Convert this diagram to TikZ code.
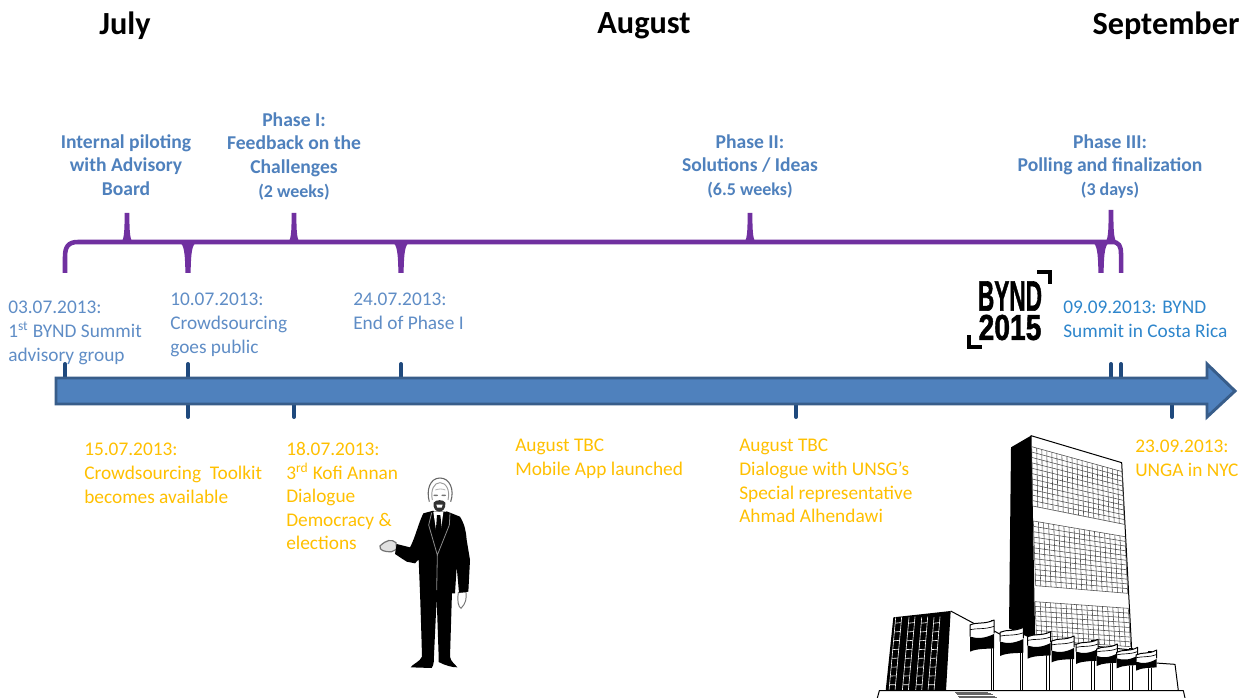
\documentclass[tikz,border=0pt]{standalone}
\usepackage{fontspec}
\setmainfont{Carlito}
\newfontfamily\logofont{Liberation Sans}[BoldFeatures={FakeBold=1.5}]
\usetikzlibrary{calc}
\definecolor{barfill}{HTML}{4F81BD}
\definecolor{barline}{HTML}{385D8A}
\definecolor{tickc}{HTML}{1F497D}
\definecolor{braceC}{HTML}{7030A0}
\definecolor{phaseC}{HTML}{4F81BD}
\definecolor{dateC}{HTML}{5F8DC6}
\definecolor{summitC}{HTML}{2E86CC}
\definecolor{orangeC}{HTML}{FFC000}
\newcommand{\smallline}{\fontsize{13.5}{17.9}\selectfont}
\tikzset{
  month/.style={inner sep=0,anchor=center,font=\fontsize{24.2}{28}\selectfont\bfseries},
  phase/.style={inner sep=0,anchor=north,align=center,text=phaseC,font=\fontsize{14.7}{17.9}\selectfont\bfseries},
  datelbl/.style={inner sep=0,anchor=north west,align=left,font=\fontsize{14.5}{17.7}\selectfont},
  tick/.style={draw=tickc,line width=3pt,line cap=round},
  bracepath/.style={draw=braceC,line width=3.4pt,line join=round},
  ln/.style={draw=black,line width=0.75pt,line join=round},
  thin/.style={draw=black!70,line width=0.42pt},
}
% quadrilateral window grid
\newcommand{\gridsec}[6]{%
  \coordinate (gA) at #1; \coordinate (gB) at #2; \coordinate (gC) at #3; \coordinate (gD) at #4;
  \foreach \i in {0,...,#5} {\draw[thin] ($(gA)!{\i/#5}!(gB)$) -- ($(gD)!{\i/#5}!(gC)$);}
  \foreach \j in {0,...,#6} {\draw[thin] ($(gA)!{\j/#6}!(gD)$) -- ($(gB)!{\j/#6}!(gC)$);}
}
% flag: left x, right x, top y, mid y, bottom y
\newcommand{\flagshape}[5]{%
  \pgfmathsetmacro{\w}{#2-#1}
  \fill[white] (#1,#3+15) .. controls (#1+0.3*\w,#3+5) and (#1+0.6*\w,#3+14) .. (#2,#3) -- (#2,#5-12) -- (#1,#5) -- cycle;
  \draw[ln] (#1,#4) -- (#1,#3+15) .. controls (#1+0.3*\w,#3+5) and (#1+0.6*\w,#3+14) .. (#2,#3) -- (#2,#4-10);
  \draw[draw=black,line width=0.5pt] (#1,#3+15+0.38*#4-0.38*#3-5) .. controls (#1+0.3*\w,#3+5+0.38*#4-0.38*#3) and (#1+0.6*\w,#3+10+0.38*#4-0.38*#3) .. (#2,#3+0.38*#4-0.38*#3);
  \fill[black] (#1,#4) .. controls (#1+0.3*\w,#4+6) and (#1+0.6*\w,#4+6) .. (#2,#4-8)
     -- (#2,#5-10) .. controls (#1+0.7*\w,#5-8) and (#1+0.3*\w,#5-10) .. (#1,#5) -- cycle;
}
% tapering cusps of a brace: x, tip y
\newcommand{\cuspup}[2]{%
  \fill[braceC] (#1-7,243) .. controls (#1-3,241) and (#1-2.4,234) .. (#1-2.4,#2) -- (#1+2.4,#2)
     .. controls (#1+2.4,234) and (#1+3,241) .. (#1+7,243) -- cycle;
}
\newcommand{\cuspdown}[2]{%
  \fill[braceC] (#1-9,242) .. controls (#1-4,244) and (#1-3,252) .. (#1-2.6,#2) -- (#1+2.6,#2)
     .. controls (#1+3,252) and (#1+4,244) .. (#1+9,242) -- cycle;
}
\begin{document}
\begin{tikzpicture}[x=0.75pt,y=-0.75pt]
\useasboundingbox (0,0) rectangle (1248,698);
\fill[white] (0,0) rectangle (1248,698);

% months
\node[month] (mJuly) at (125,26) {July};
\node[month] (mAug) at (644,26) {August};
\node[month] (mSep) at (1166,26) {September};

% phases
\node[phase] (pA) at (126,134) {Internal piloting\\with Advisory\\Board};
\node[phase] (pB) at (294,112) {Phase I:\\Feedback on the\\Challenges\\{\smallline (2 weeks)}};
\node[phase] (pC) at (750,134) {Phase II:\\Solutions / Ideas\\{\smallline (6.5 weeks)}};
\node[phase] (pD) at (1110,134) {Phase III:\\Polling and finalization\\{\smallline (3 days)}};

% braces
\draw[bracepath] (65,273) -- (65,257) .. controls (65,247) and (68,242) .. (78,242) -- (1112,242)
   .. controls (1119,242) and (1121,246) .. (1121,254) -- (1121,273);
\cuspup{127}{213}
\cuspup{294}{213}
\cuspup{750}{213}
\cuspup{1111}{210}
\cuspdown{188}{273}
\cuspdown{401}{273}
\cuspdown{1101}{273}

% date labels above
\node[datelbl,text=dateC] (d1) at (8,301) {03.07.2013:\\1\textsuperscript{st} BYND Summit\\advisory group};
\node[datelbl,text=dateC] (d2) at (170,293) {10.07.2013:\\Crowdsourcing\\goes public};
\node[datelbl,text=dateC] (d3) at (353,293) {24.07.2013:\\End of Phase I};
\node[datelbl,text=summitC] (d4) at (1063,301) {09.09.2013: BYND\\Summit in Costa Rica};

% date labels below
\node[datelbl,text=orangeC] (e1) at (84,443) {15.07.2013:\\Crowdsourcing\ \ Toolkit\\becomes available};
\node[datelbl,text=orangeC] (e2) at (286,442) {18.07.2013:\\3\textsuperscript{rd} Kofi Annan\\Dialogue\\Democracy \&\\elections};
\node[datelbl,text=orangeC] (e3) at (515,439) {August TBC\\Mobile App launched};
\node[datelbl,text=orangeC] (e4) at (739,439) {August TBC\\Dialogue with UNSG’s\\Special representative\\Ahmad Alhendawi};
\node[datelbl,text=orangeC] (e5) at (1135,440) {23.09.2013:\\UNGA in NYC};

% ticks
\foreach \x in {65,188,401,1111,1121} {\draw[tick] (\x,364) -- (\x,380);}
\foreach \x in {188,294,796,1172} {\draw[tick] (\x,402) -- (\x,417);}

% timeline arrow
\draw[fill=barfill,draw=barline,line width=2.2pt,line join=miter]
  (56,378) -- (1207,378) -- (1207,364) -- (1235,391) -- (1207,417) -- (1207,404) -- (56,404) -- cycle;

% logo
\node[inner sep=0,anchor=center,xscale=0.53] (logoA) at (1010,296)
  {\logofont\fontsize{32}{32}\selectfont\bfseries BYND};
\node[inner sep=0,anchor=center,xscale=0.785] (logoB) at (1010,327.5)
  {\logofont\fontsize{27}{27}\selectfont\bfseries 2015};
\draw[line width=2.4pt] (1037,272) -- (1050,272) -- (1050,284);
\draw[line width=2.4pt] (969,335) -- (969,347) -- (982,347);

% man
\begin{scope}[shift={(360,460)},x=0.25pt,y=-0.25pt]
  % hand (left)
  \draw[fill=black!12,draw=black!55,line width=0.9pt] (108,248) .. controls (95,236) and (78,240) .. (60,258)
     .. controls (58,270) and (70,276) .. (95,275) -- (110,268) -- cycle;
  % hand (right)
  \draw[fill=white,draw=black!55,line width=0.7pt] (295,398) -- (318,396) .. controls (320,415) and (318,430) .. (303,445)
     .. controls (295,440) and (291,425) .. (295,398) -- cycle;
  % trousers and shoes
  \fill[black] (180,395) -- (184,520) -- (186,590) .. controls (180,605) and (158,612) .. (152,622)
     -- (215,624) .. controls (222,615) and (222,600) .. (222,585) -- (230,415) -- (236,590) -- (236,606)
     .. controls (255,616) and (275,622) .. (292,622) .. controls (285,612) and (272,605) .. (270,590) -- (276,395) -- cycle;
  % jacket
  \fill[black] (190,160) -- (220,152) -- (260,154) -- (300,170) .. controls (315,195) and (318,215) .. (320,240)
     -- (330,300) -- (325,395) -- (297,398) -- (290,320) -- (285,400) -- (180,400) -- (176,298)
     -- (165,310) -- (140,305) -- (105,282) -- (110,252) -- (150,262) .. controls (165,235) and (175,190) .. (190,160) -- cycle;
  % shirt and tie
  \fill[white] (220,156) -- (250,156) -- (236,262) -- cycle;
  \fill[black] (231,165) -- (241,165) -- (248,232) -- (236,268) -- (226,232) -- cycle;
  % lapels
  \draw[draw=black!45,line width=0.6pt] (215,158) -- (206,195) -- (232,285) -- (268,195) -- (270,160);
  \draw[draw=black!45,line width=0.6pt] (232,285) -- (230,390);
  % head
  \fill[white] (208,125) .. controls (198,90) and (210,54) .. (240,54) .. controls (270,54) and (284,90) .. (272,125)
     -- (258,155) -- (222,155) -- cycle;
  \draw[draw=black!60,line width=0.8pt] (208,125) .. controls (198,90) and (210,54) .. (240,54) .. controls (270,54) and (284,90) .. (272,125);
  \draw[draw=black!40,line width=0.7pt] (217,120) .. controls (211,90) and (222,68) .. (240,68) .. controls (258,68) and (271,90) .. (264,120);
  \draw[draw=black!30,line width=0.6pt] (226,90) .. controls (235,86) and (248,86) .. (256,90);
  \fill[black!80] (221,128) .. controls (228,118) and (250,118) .. (256,128)
     .. controls (258,145) and (248,155) .. (238,155) .. controls (228,155) and (218,145) .. (221,128) -- cycle;
  \fill[white] (229,134) -- (248,134) -- (245,143) -- (232,143) -- cycle;
  \fill[black!55] (227,106) ellipse (7 and 2.5) (251,106) ellipse (7 and 2.5);
\end{scope}

% UN building
\begin{scope}[shift={(860,420)},x=0.25pt,y=-0.25pt]
  % tower
  \fill[black] (453,82) -- (513,47) -- (524,660) -- (447,625) -- cycle;
  \draw[ln,fill=white] (513,47) -- (785,128) -- (815,690) -- (524,660) -- cycle;
  \gridsec{(515,80)}{(787,155)}{(793,313)}{(518,258)}{18}{11}
  \gridsec{(520,303)}{(795,350)}{(803,520)}{(527,497)}{18}{12}
  \gridsec{(525,545)}{(805,565)}{(812,680)}{(530,660)}{18}{8}
  % low building
  \fill[white] (272,573) -- (345,612) -- (450,650) -- (880,727) -- (945,733) -- (955,812) -- (258,812) -- cycle;
  \draw[ln] (272,573) -- (345,612);
  \draw[ln] (400,632) -- (425,645);
  \draw[ln] (872,728) -- (945,733) -- (955,812);
  \fill[black] (100,592) -- (272,573) -- (258,812) -- (77,812) -- cycle;
  \foreach \xa/\xb in {125/105,165/145,203/185,240/222} {
    \draw[white,line width=0.45pt] (\xa,590) -- (\xb,812);
    \draw[white,line width=0.45pt] (\xa-18,592) -- (\xb-18,812);
    \foreach \t in {0.08,0.2,...,1} {\draw[white,line width=0.45pt] ($(\xa,590)!\t!(\xb,812)$) -- ($(\xa-18,592)!\t!(\xb-18,812)$);}
  }
  % poles
  \foreach \x/\y in {393/600,480/625,560/640,630/655,695/662,750/678,808/685,865/695} {
    \draw[ln,fill=white] (\x,\y) rectangle (\x+8,812);
  }
  % flags
  \flagshape{330}{402}{600}{650}{695}
  \flagshape{420}{490}{622}{665}{708}
  \flagshape{503}{572}{635}{677}{716}
  \flagshape{575}{642}{648}{692}{727}
  \flagshape{648}{714}{658}{695}{732}
  \flagshape{710}{772}{672}{708}{738}
  \flagshape{770}{833}{682}{715}{745}
  \flagshape{828}{890}{690}{725}{752}
  % plaza
  \draw[ln] (52,834) -- (58,812) -- (970,812) -- (975,834);
  \foreach \y/\a/\b in {816/285/385,820/288/392,824/291/399,828/294/405,832/297/410} {
    \draw[draw=black!60,line width=0.5pt] (\a,\y) -- (\b,\y);
  }
\end{scope}
\end{tikzpicture}
\end{document}
